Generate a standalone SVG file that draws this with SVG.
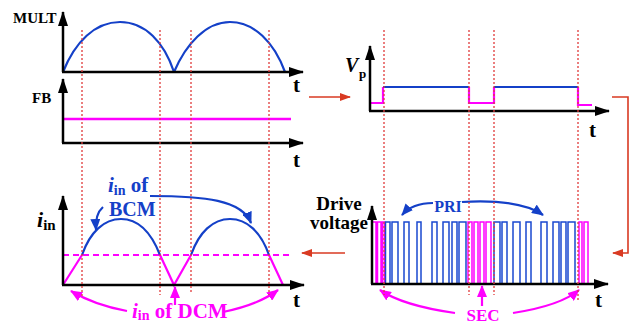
<svg xmlns="http://www.w3.org/2000/svg" width="638" height="325" viewBox="0 0 638 325">
<style>
text{font-family:"Liberation Serif","Times New Roman",serif;font-weight:bold}
.ax{stroke:#000;stroke-width:2.5;fill:none;marker-end:url(#axA)}
.blue{stroke:#1440c8;stroke-width:2.2;fill:none}
.mag{stroke:#ff00ff;stroke-width:2.2;fill:none}
.pb{stroke:#1a48d0;stroke-width:1.5;fill:none}
.pm{stroke:#ff00ff;stroke-width:1.5;fill:none}
.dot{stroke:#e03a3a;stroke-width:1.3;stroke-dasharray:2 2;fill:none}
.red{stroke:#d93a22;stroke-width:1.6;fill:none}
.t{font-size:21px;fill:#000}
.lbl{fill:#000}
</style>
<defs>
<marker id="axA" markerUnits="userSpaceOnUse" markerWidth="15" markerHeight="10" refX="14" refY="5" orient="auto"><path d="M0,0L15,5L0,10z" fill="#000"/></marker>
<marker id="redA" markerUnits="userSpaceOnUse" markerWidth="11" markerHeight="8" refX="10" refY="4" orient="auto"><path d="M0,0L11,4L0,8z" fill="#d93a22"/></marker>
<marker id="blueA" markerUnits="userSpaceOnUse" markerWidth="12" markerHeight="10" refX="11" refY="5" orient="auto"><path d="M0,0L12,5L0,10z" fill="#1440c8"/></marker>
<marker id="magA" markerUnits="userSpaceOnUse" markerWidth="12" markerHeight="10" refX="11" refY="5" orient="auto"><path d="M0,0L12,5L0,10z" fill="#ff00ff"/></marker>
</defs>

<g id="mult-panel">
<path class="blue" d="M63,72C75,42 95,22 120,22C145,22 164,42 174,72"/>
<path class="blue" d="M174,72C186,44 206,22 230,22C254,22 274,42 285,72"/>
<line class="ax" x1="63" y1="72" x2="63" y2="12"/>
<line class="ax" x1="62" y1="72" x2="303" y2="72"/>
<text x="13" y="23" font-size="15" class="lbl">MULT</text>
<text x="293" y="92" class="t">t</text>
</g>

<g id="fb-panel">
<line x1="63" y1="119" x2="291" y2="119" stroke="#ff00ff" stroke-width="2.5"/>
<line class="ax" x1="63" y1="143" x2="63" y2="79"/>
<line class="ax" x1="62" y1="143" x2="303" y2="143"/>
<text x="32" y="103" font-size="15" class="lbl">FB</text>
<text x="293" y="167" class="t">t</text>
</g>

<g id="vp-panel">
<path class="mag" d="M370,103H383V87M469,87V103H494V87M578,87V105H592"/>
<path class="blue" d="M383,87H469M494,87H578"/>
<line class="ax" x1="370" y1="111" x2="370" y2="46"/>
<line class="ax" x1="369" y1="111" x2="609" y2="111"/>
<text x="345" y="72" font-size="20" class="lbl" font-style="italic">V</text>
<text x="359" y="78" font-size="13" class="lbl">p</text>
<text x="589" y="137" class="t">t</text>
</g>

<g id="iin-panel">
<line x1="63" y1="255" x2="289" y2="255" stroke="#ff00ff" stroke-width="2.2" stroke-dasharray="6 4"/>
<path class="blue" d="M82,255C90,232 104,219 121,219C138,219 151,232 160,255"/>
<path class="blue" d="M191,255C199,232 213,219 230,219C247,219 261,232 269,255"/>
<path class="mag" d="M63,285L82,255M160,255L174,285L191,255M269,255L283,285"/>
<line class="ax" x1="63" y1="285" x2="63" y2="196"/>
<line class="ax" x1="62" y1="285" x2="304" y2="285"/>
<text x="37" y="227" class="lbl"><tspan font-size="22" font-style="italic">i</tspan><tspan font-size="15" dy="3">in</tspan></text>
<text x="293" y="307" class="t">t</text>
<text x="108" y="192" fill="#1440c8"><tspan font-size="21" font-style="italic">i</tspan><tspan font-size="14" dy="3">in</tspan><tspan font-size="21" dy="-3"> of</tspan></text>
<text x="109" y="216" font-size="20" fill="#1440c8">BCM</text>
<path class="blue" d="M103,207Q95,214 96,230" marker-end="url(#blueA)"/>
<path class="blue" d="M150,196C205,196 242,200 251,223" marker-end="url(#blueA)"/>
<text x="132" y="318" fill="#ff00ff"><tspan font-size="21" font-style="italic">i</tspan><tspan font-size="14" dy="2">in</tspan><tspan font-size="21" dy="-2"> of DCM</tspan></text>
<path class="mag" d="M127,311C105,307 86,300 71,291" marker-end="url(#magA)"/>
<path class="mag" d="M175,305V287" marker-end="url(#magA)"/>
<path class="mag" d="M223,312C243,308 262,302 278,290" marker-end="url(#magA)"/>
</g>

<g id="drive-panel">
<path class="pm" d="M372,284V222H376V284M377.5,284V222H381V284M382.5,284V222H384.5V284M468,284V222H472V284M474,284V222H478V284M480,284V222H484V284M486,284V222H491V284M579,284V222H582V284M584,284V222H588V284"/>
<path class="pb" d="M385.5,284V222H390V284M392,284V222H398V284M404,284V222H409V284M417,284V222H421V284M432,284V222H437V284M443,284V222H449V284M452,284V222H457V284M459,284V222H466V284M494,284V222H500V284M502,284V222H507V284M513,284V222H520V284M526,284V222H531V284M541,284V222H547V284M553,284V222H559V284M561,284V222H566V284M568,284V222H575V284"/>
<line class="ax" x1="372" y1="284" x2="372" y2="206"/>
<line class="ax" x1="371" y1="284" x2="608" y2="284"/>
<text x="339" y="210" font-size="19" class="lbl" text-anchor="middle">Drive</text>
<text x="339" y="229" font-size="19" class="lbl" text-anchor="middle">voltage</text>
<text x="595" y="307" class="t">t</text>
<text x="448" y="212" font-size="16" fill="#1440c8" text-anchor="middle">PRI</text>
<path class="blue" d="M433,203C420,203 409,207 402,215" marker-end="url(#blueA)"/>
<path class="blue" d="M462,202C497,200 527,204 543,215" marker-end="url(#blueA)"/>
<text x="483" y="321" font-size="17" fill="#ff00ff" text-anchor="middle">SEC</text>
<path class="mag" d="M455,313C420,308 396,301 380,290" marker-end="url(#magA)"/>
<path class="mag" d="M482,306V286" marker-end="url(#magA)"/>
<path class="mag" d="M513,313C545,308 566,301 579,290" marker-end="url(#magA)"/>
</g>

<g id="markers">
<path class="dot" d="M82,30V297M160,30V295M191,30V293M269,30V295M384,30V295M469,30V295M494,30V295M578,30V300"/>
</g>

<g id="connectors">
<path class="red" d="M309,97H350" marker-end="url(#redA)"/>
<path class="red" d="M612,97H628V253H613" marker-end="url(#redA)"/>
<path class="red" d="M345,253H302" marker-end="url(#redA)"/>
</g>
</svg>
